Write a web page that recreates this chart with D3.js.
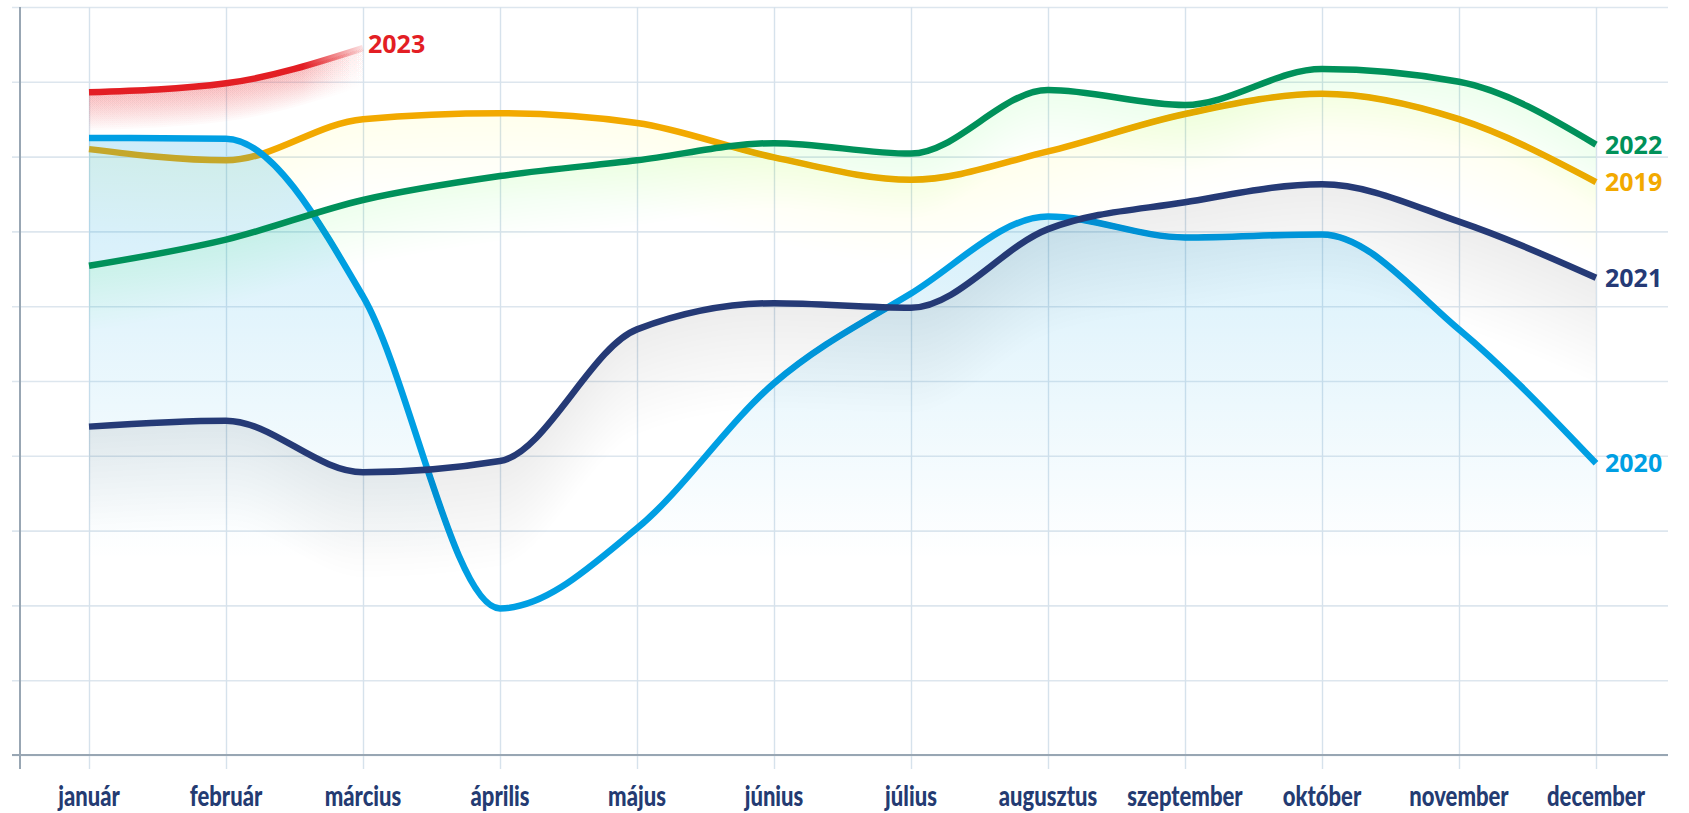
<!DOCTYPE html>
<html>
<head>
<meta charset="utf-8">
<script src="https://cdn.jsdelivr.net/npm/d3@7"></script>
<style>
    body { margin: 0; background: #fff; }
    .month { font-family: Lato, "Open Sans", sans-serif; font-weight: 900; font-size: 29px; fill: #243b72; }
    .year { font-family: "Open Sans", "Noto Sans", sans-serif; font-weight: 700; font-size: 25px; }
</style>
</head>
<body>
<div id="chart"></div>
<script>
// data (index values, no y labels in the original)
const months = ['január', 'február', 'március', 'április', 'május', 'június',
    'július', 'augusztus', 'szeptember', 'október', 'november', 'december'];
const yTicks = [0, 1, 2, 3, 4, 5, 6, 7, 8, 9, 10];

const v2019 = [8.10, 7.95, 8.50, 8.58, 8.45, 7.99, 7.69, 8.07, 8.57, 8.84, 8.50, 7.66];
const v2020 = [8.25, 8.24, 6.13, 1.96, 3.03, 4.97, 6.17, 7.20, 6.92, 6.96, 5.69, 3.90];
const v2021 = [4.39, 4.47, 3.78, 3.93, 5.69, 6.04, 5.98, 7.03, 7.39, 7.63, 7.13, 6.38];
const v2022 = [6.54, 6.89, 7.42, 7.74, 7.95, 8.18, 8.04, 8.89, 8.69, 9.17, 9.00, 8.16];
const v2023 = [8.86, 8.98, 9.45];

const width = 1689;
const height = 813;

const svg = d3.select('#chart')
    .append('svg')
    .attr('width', width)
    .attr('height', height);

const defs = svg.append('defs');

// scales
const x = d3.scalePoint()
    .domain(months)
    .range([89, 1596]);

const y = d3.scaleLinear()
    .domain([0, 10])
    .range([755, 7]);

// grid
const gridY = d3.axisRight(y)
    .tickValues(yTicks)
    .tickSize(1656)
    .tickFormat('');

svg.append('g')
    .attr('transform', 'translate(12, 0)')
    .call(gridY)
    .call(g => g.select('.domain').remove())
    .call(g => g.selectAll('line').attr('stroke', '#dde6ee').attr('stroke-width', 1.6));

const gridX = d3.axisBottom(x)
    .tickSize(-762)
    .tickFormat('');

svg.append('g')
    .attr('transform', 'translate(0, 769)')
    .call(gridX)
    .call(g => g.select('.domain').remove())
    .call(g => g.selectAll('line').attr('stroke', '#d6e2ec').attr('stroke-width', 1.4));

// axis lines
svg.append('line')
    .attr('x1', 12).attr('x2', 1668)
    .attr('y1', y(0)).attr('y2', y(0))
    .attr('stroke', '#98a6b3').attr('stroke-width', 2);

svg.append('line')
    .attr('x1', 20).attr('x2', 20)
    .attr('y1', y(10)).attr('y2', 769)
    .attr('stroke', '#98a6b3').attr('stroke-width', 2);

// month labels (condensed look)
svg.append('g')
    .selectAll('text')
    .data(months)
    .enter()
    .append('text')
    .attr('class', 'month')
    .attr('transform', d => `translate(${x(d)}, 806) scale(0.76, 1)`)
    .attr('text-anchor', 'middle')
    .text(d => d);

// gradients
const blueGrad = defs.append('linearGradient')
    .attr('id', 'blueFill')
    .attr('gradientUnits', 'userSpaceOnUse')
    .attr('x1', 0).attr('x2', 0)
    .attr('y1', 130).attr('y2', 560);
blueGrad.append('stop').attr('offset', 0).attr('stop-color', '#009fe3').attr('stop-opacity', 0.2);
blueGrad.append('stop').attr('offset', 1).attr('stop-color', '#009fe3').attr('stop-opacity', 0);

const redGrad = defs.append('linearGradient')
    .attr('id', 'redFade')
    .attr('gradientUnits', 'userSpaceOnUse')
    .attr('x1', x(months[0])).attr('x2', x(months[2]))
    .attr('y1', 0).attr('y2', 0);
redGrad.append('stop').attr('offset', 0).attr('stop-color', '#e31e24').attr('stop-opacity', 1);
redGrad.append('stop').attr('offset', 0.78).attr('stop-color', '#e31e24').attr('stop-opacity', 1);
redGrad.append('stop').attr('offset', 1).attr('stop-color', '#e31e24').attr('stop-opacity', 0.12);

const line = d3.line()
    .x((d, i) => x(months[i]))
    .y(d => y(d))
    .curve(d3.curveMonotoneX);

// soft shadow under a line: stacked bands hanging from the curve
const shadow = (g, data, fill, depth, maxOp) => {
    const n = 18;
    const op = 1 - Math.pow(1 - maxOp, 1 / n);
    for (let k = 1; k <= n; k++) {
        const band = d3.area()
            .x((d, i) => x(months[i]))
            .y0(d => y(d))
            .y1(d => y(d) + depth * k / n)
            .curve(d3.curveMonotoneX);
        g.append('path')
            .attr('d', band(data))
            .attr('fill', fill)
            .attr('fill-opacity', op);
    }
};

const drawLine = (g, data, stroke) => {
    g.append('path')
        .attr('d', line(data))
        .attr('fill', 'none')
        .attr('stroke', stroke)
        .attr('stroke-width', 6.5);
};

// 2019
const g2019 = svg.append('g');
shadow(g2019, v2019, '#f2a900', 85, 0.06);
drawLine(g2019, v2019, '#f2a900');

// 2020
const g2020 = svg.append('g');
const area2020 = d3.area()
    .x((d, i) => x(months[i]))
    .y0(y(0))
    .y1(d => y(d))
    .curve(d3.curveMonotoneX);
g2020.append('path')
    .attr('d', area2020(v2020))
    .attr('fill', 'url(#blueFill)');
drawLine(g2020, v2020, '#009fe3');

// 2021
const g2021 = svg.append('g');
shadow(g2021, v2021, '#3a4468', 105, 0.1);
drawLine(g2021, v2021, '#253a76');

// 2022
const g2022 = svg.append('g');
shadow(g2022, v2022, '#00915a', 65, 0.05);
drawLine(g2022, v2022, '#00915a');

// 2023
const g2023 = svg.append('g');
shadow(g2023, v2023, 'url(#redFade)', 38, 0.3);
drawLine(g2023, v2023, 'url(#redFade)');

// year labels at line ends
const labels = [
    { year: '2019', values: v2019, color: '#f2a900' },
    { year: '2020', values: v2020, color: '#009fe3' },
    { year: '2021', values: v2021, color: '#253a76' },
    { year: '2022', values: v2022, color: '#00915a' },
    { year: '2023', values: v2023, color: '#e31e24' }
];

svg.append('g')
    .selectAll('text')
    .data(labels)
    .enter()
    .append('text')
    .attr('class', 'year')
    .attr('x', d => x(months[d.values.length - 1]) + (d.values.length < 12 ? 5 : 9))
    .attr('y', d => y(d.values[d.values.length - 1]) + (d.values.length < 12 ? -4 : 0))
    .attr('dy', '0.36em')
    .attr('fill', d => d.color)
    .text(d => d.year);
</script>
</body>
</html>
